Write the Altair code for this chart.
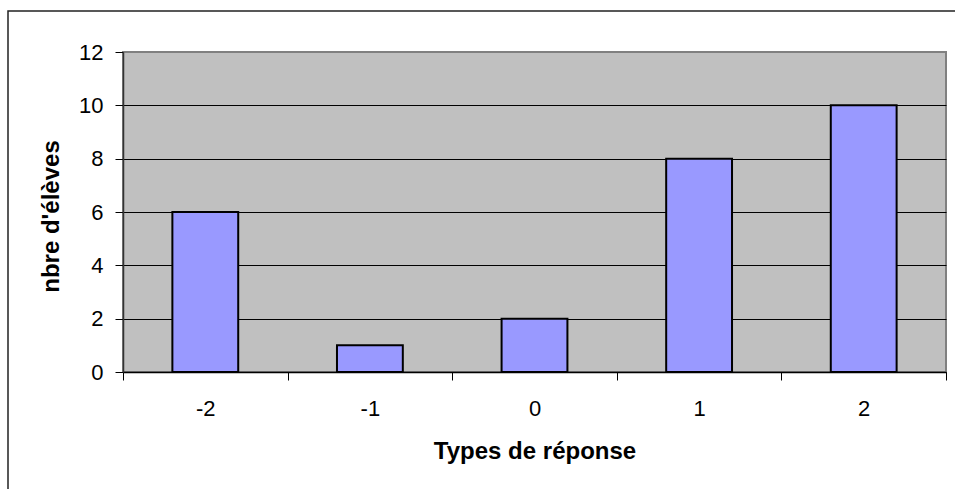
import altair as alt
import pandas as pd

categories = [-2, -1, 0, 1, 2]
counts = [6, 1, 2, 8, 10]
x_ticks = [-2.5, -2, -1.5, -1, -0.5, 0, 0.5, 1, 1.5, 2, 2.5]
y_ticks = [0, 2, 4, 6, 8, 10, 12]

df = pd.DataFrame({"type": categories, "n": counts})

FONT = "Liberation Sans"

xscale = alt.Scale(domain=[-2.5, 2.5], nice=False, zero=False)
yscale = alt.Scale(domain=[0, 12], nice=False, zero=True)

bars = alt.Chart(df).transform_calculate(
    x0="datum.type - 0.2", x1="datum.type + 0.2", base="0"
).mark_bar(color="#9999FF", stroke="black", strokeWidth=2).encode(
    x=alt.X("x0:Q", scale=xscale, axis=alt.Axis(
        values=x_ticks,
        title="Types de réponse",
        grid=False,
        labelExpr="datum.value % 1 == 0 ? '' + datum.value : ''",
        tickOpacity={"condition": {"test": "datum.value % 1 == 0", "value": 0}, "value": 1},
        tickSize=8, tickColor="black", tickWidth=1,
        domainColor="black", domainWidth=1.5,
        labelFont=FONT, labelFontSize=22, labelColor="black", labelPadding=18,
        labelFlush=False, labelOverlap=False,
        titleFont=FONT, titleFontSize=24, titleFontWeight="bold", titleColor="black",
        titleY=86, titleBaseline="alphabetic",
    )),
    x2="x1:Q",
    y=alt.Y("n:Q", scale=yscale, axis=alt.Axis(
        values=y_ticks,
        title="nbre d'élèves",
        grid=True, gridColor="black", gridWidth=1,
        gridOpacity={"condition": {"test": "datum.value == 12", "value": 0}, "value": 1},
        tickSize=8, tickColor="black", tickWidth=1,
        domainColor="#333333", domainWidth=1.5,
        labelFont=FONT, labelFontSize=22, labelColor="black", labelPadding=12,
        labelFlush=False,
        titleFont=FONT, titleFontSize=24, titleFontWeight="bold", titleColor="black",
        titleX=-65, titleY=164, titleBaseline="alphabetic", titleAngle=270,
    )),
    y2="base:Q",
)

frame = alt.Chart(pd.DataFrame({"a": [0]})).mark_rect(
    fill=None, stroke="#222222", strokeWidth=1.5
).encode(
    x=alt.value(-115), x2=alt.value(1200), y=alt.value(-41), y2=alt.value(700)
)

chart = alt.layer(frame, bars).properties(
    width=823, height=320,
    autosize=alt.AutoSizeParams(type="none"),
    padding={"left": 123, "top": 52, "right": 9, "bottom": 117},
    background="white",
).configure_view(
    fill="#C0C0C0", stroke="#808080", strokeWidth=2
)

chart.save("out.html", embed_options={"renderer": "svg", "actions": False})
